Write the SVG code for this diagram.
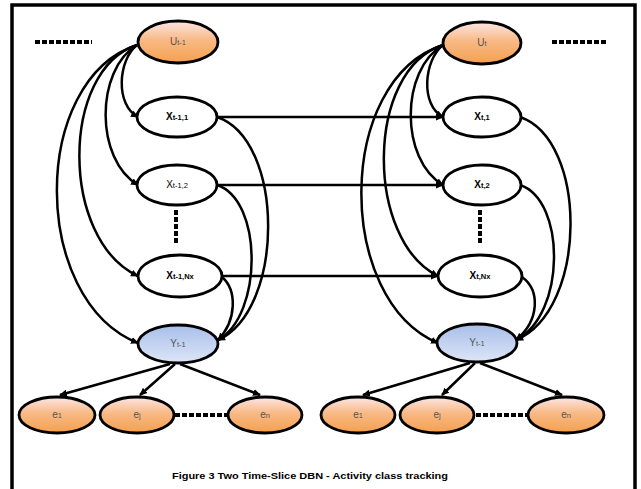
<svg xmlns="http://www.w3.org/2000/svg" width="641" height="489" viewBox="0 0 641 489">
<defs>
<linearGradient id="gOr" x1="0" y1="0" x2="0" y2="1">
<stop offset="0" stop-color="#fde6e6"/><stop offset="0.45" stop-color="#f8b985"/><stop offset="1" stop-color="#f4a04e"/>
</linearGradient>
<linearGradient id="gBl" x1="0" y1="0" x2="0" y2="1">
<stop offset="0" stop-color="#a8bee9"/><stop offset="1" stop-color="#dde6f7"/>
</linearGradient>
<marker id="ah" markerWidth="8" markerHeight="8" refX="7" refY="4" orient="auto" markerUnits="userSpaceOnUse">
<path d="M0,0.5 L8,4 L0,7.5 Z" fill="#000"/>
</marker>
<style>
.nd{stroke:#000;stroke-width:2.8}
.w{fill:#fff}
.o{fill:url(#gOr)}
.b{fill:url(#gBl)}
.lb{font-family:"Liberation Sans",Arial,sans-serif;font-size:10px;text-anchor:middle;fill:#000}
.lg{fill:#555}
.sb{font-size:7.5px}
.c{fill:none;stroke:#000;stroke-width:2.5;marker-end:url(#ah)}
.h{fill:none;stroke:#000;stroke-width:2.5;marker-end:url(#ah)}
.dt{fill:none;stroke:#000;stroke-width:4;stroke-dasharray:5 2}
.fr{fill:none;stroke:#000;stroke-width:3.5}
</style>
</defs>
<rect width="641" height="489" fill="#fff"/>
<path class="fr" d="M12,489 V5 H635 V489"/>

<g id="dots">
<line class="dt" x1="35" y1="42" x2="92" y2="42"/>
<line class="dt" x1="552" y1="42" x2="608" y2="42"/>
<line class="dt" x1="176" y1="210" x2="176" y2="243" stroke-width="3" stroke-dasharray="4 2"/>
<line class="dt" x1="480" y1="210" x2="480" y2="243" stroke-width="3" stroke-dasharray="4 2"/>
<line class="dt" x1="175" y1="415" x2="227" y2="415"/>
<line class="dt" x1="476" y1="415" x2="527" y2="415"/>
</g>

<g id="connectors">
<path class="c" d="M137,45 C118,60 115,105 138,117"/>
<path class="c" d="M137,45 C95,70 95,160 138,185"/>
<path class="c" d="M137,45 C60,70 60,240 138,276"/>
<path class="c" d="M137,45 C30,80 30,300 138,343"/>
<path class="c" d="M217,117 C285,140 285,310 218,340"/>
<path class="c" d="M217,185 C263,200 263,315 218,340"/>
<path class="c" d="M222,277 C237,290 237,320 218,340"/>
<path class="h" d="M217,117 H443"/>
<path class="h" d="M217,185 H443"/>
<path class="h" d="M222,276 H438"/>
<path class="c" d="M170,364 L60,395"/>
<path class="c" d="M175,364 L140,395"/>
<path class="c" d="M180,364 L260,395"/>

<path class="c" d="M443,45 C424,60 420,105 443,117"/>
<path class="c" d="M443,45 C400,70 400,160 443,185"/>
<path class="c" d="M443,45 C365,70 365,240 438,276"/>
<path class="c" d="M443,45 C335,80 335,300 438,343"/>
<path class="c" d="M520,117 C588,140 588,310 516,340"/>
<path class="c" d="M520,185 C566,200 566,315 516,340"/>
<path class="c" d="M522,277 C540,290 540,320 516,340"/>
<path class="c" d="M470,363 L363,395"/>
<path class="c" d="M475,363 L442,395"/>
<path class="c" d="M480,363 L562,395"/>
</g>

<g id="U_tm1"><ellipse class="nd o" cx="178" cy="42" rx="40" ry="21"/><text class="lb lg" x="178" y="45">U<tspan class="sb">t-1</tspan></text></g>
<g id="U_t"><ellipse class="nd o" cx="482" cy="43" rx="39" ry="21"/><text class="lb lg" x="482" y="46">U<tspan class="sb">t</tspan></text></g>

<g id="X_tm1_1"><ellipse class="nd w" cx="177" cy="117" rx="40" ry="20"/><text class="lb" x="177" y="120" font-weight="bold">X<tspan class="sb">t-1,1</tspan></text></g>
<g id="X_tm1_2"><ellipse class="nd w" cx="177" cy="185" rx="40" ry="20"/><text class="lb" x="177" y="188">X<tspan class="sb">t-1,2</tspan></text></g>
<g id="X_tm1_N"><ellipse class="nd w" cx="180" cy="276" rx="42" ry="21"/><text class="lb" x="180" y="279" font-weight="bold">X<tspan class="sb">t-1,Nx</tspan></text></g>

<g id="X_t_1"><ellipse class="nd w" cx="482" cy="117" rx="39" ry="20"/><text class="lb" x="482" y="120" font-weight="bold">X<tspan class="sb">t,1</tspan></text></g>
<g id="X_t_2"><ellipse class="nd w" cx="482" cy="185" rx="39" ry="20"/><text class="lb" x="482" y="188" font-weight="bold">X<tspan class="sb">t,2</tspan></text></g>
<g id="X_t_N"><ellipse class="nd w" cx="480" cy="276" rx="42" ry="21"/><text class="lb" x="480" y="279" font-weight="bold">X<tspan class="sb">t,Nx</tspan></text></g>

<g id="Y_tm1"><ellipse class="nd b" cx="178" cy="344" rx="40" ry="19"/><text class="lb lg" x="178" y="347">Y<tspan class="sb">t-1</tspan></text></g>
<g id="Y_t"><ellipse class="nd b" cx="477" cy="343" rx="40" ry="19"/><text class="lb lg" x="477" y="346">Y<tspan class="sb">t-1</tspan></text></g>

<g id="e1_l"><ellipse class="nd o" cx="57" cy="415" rx="38" ry="18"/><text class="lb lg" x="57" y="418">e<tspan class="sb">1</tspan></text></g>
<g id="ej_l"><ellipse class="nd o" cx="137" cy="415" rx="37" ry="18"/><text class="lb lg" x="137" y="418">e<tspan class="sb">j</tspan></text></g>
<g id="en_l"><ellipse class="nd o" cx="265" cy="415" rx="37" ry="18"/><text class="lb lg" x="265" y="418">e<tspan class="sb">n</tspan></text></g>
<g id="e1_r"><ellipse class="nd o" cx="358" cy="415" rx="37" ry="18"/><text class="lb lg" x="358" y="418">e<tspan class="sb">1</tspan></text></g>
<g id="ej_r"><ellipse class="nd o" cx="437" cy="415" rx="37" ry="18"/><text class="lb lg" x="437" y="418">e<tspan class="sb">j</tspan></text></g>
<g id="en_r"><ellipse class="nd o" cx="566" cy="415" rx="38" ry="18"/><text class="lb lg" x="566" y="418">e<tspan class="sb">n</tspan></text></g>

<text x="310" y="479" font-family="Liberation Sans,Arial,sans-serif" font-size="9" font-weight="bold" text-anchor="middle" textLength="276" lengthAdjust="spacingAndGlyphs">Figure 3 Two Time-Slice DBN -  Activity class tracking</text>
</svg>
